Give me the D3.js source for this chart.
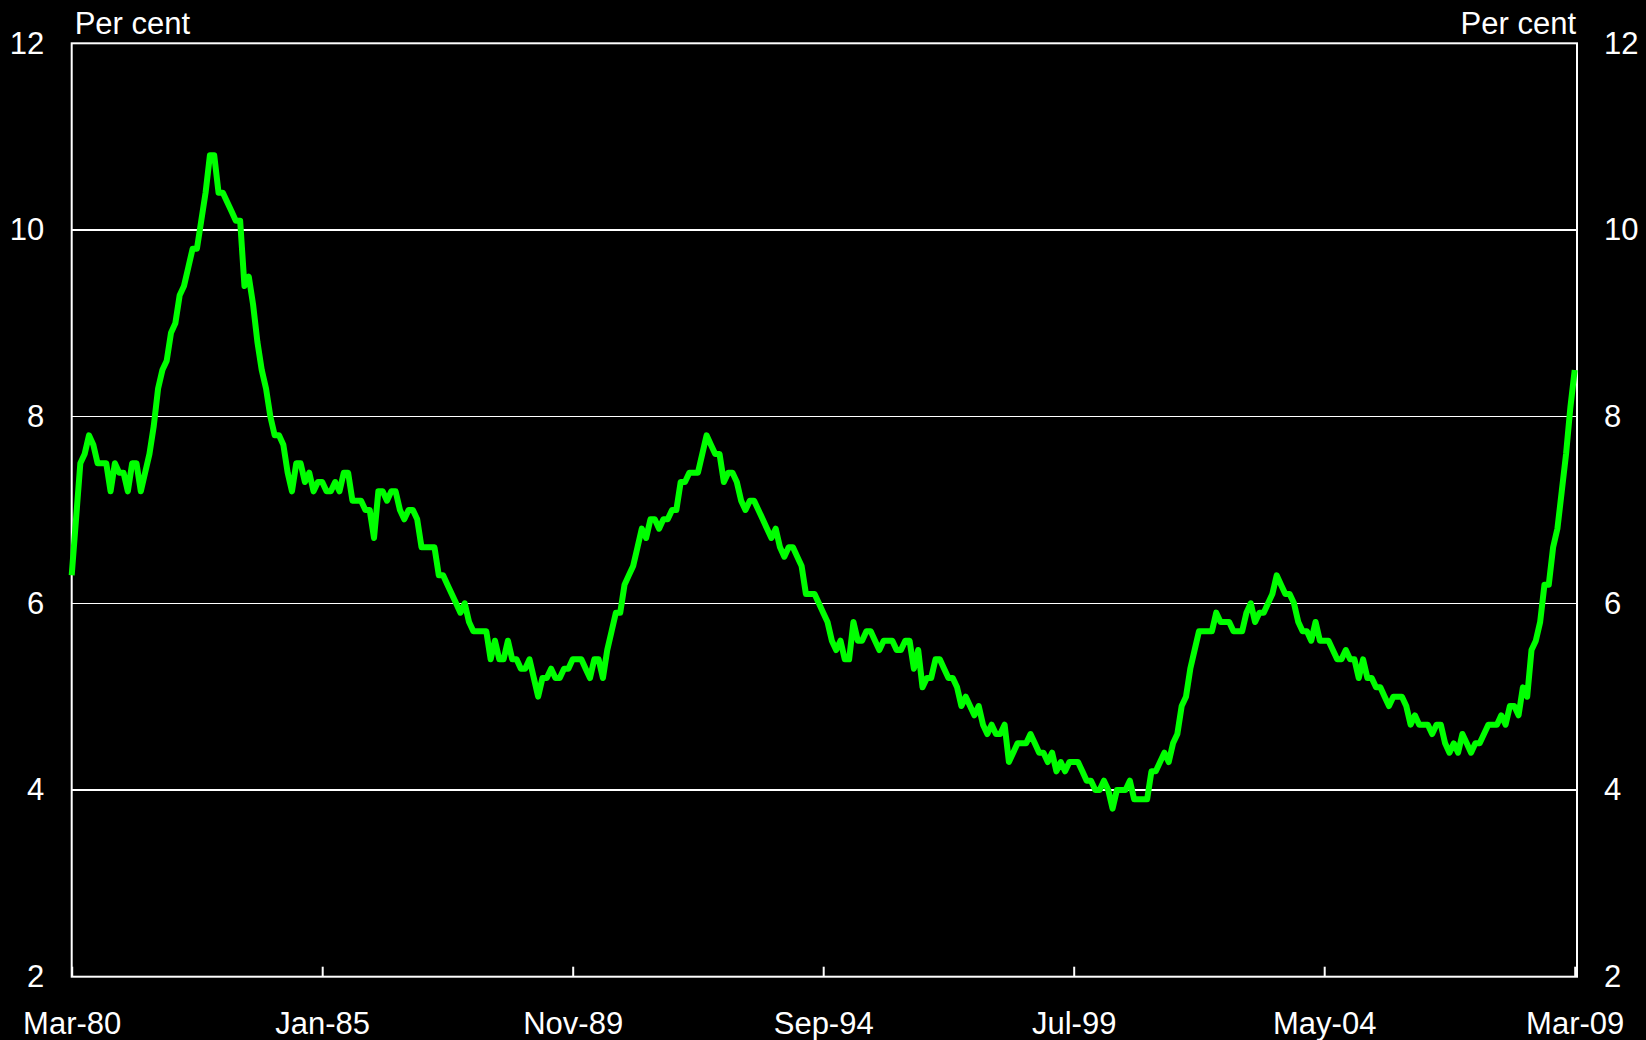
<!doctype html>
<html>
<head>
<meta charset="UTF-8" />
<title>Per cent line chart</title>
<style type="text/css">
html, body {
	margin: 0;
	padding: 0;
	background: #000;
}

svg {
	display: block;
	font-family: "Liberation Sans", Arial, sans-serif;
}

.axis text {
	fill: #fff;
	font-size: 31px;
}

.axis path,
.axis line {
	stroke: #fff;
	stroke-width: 2px;
}

.grid line {
	stroke: #fff;
	stroke-width: 1.6px;
	shape-rendering: crispEdges;
}

.frame {
	fill: none;
	stroke: #fff;
	stroke-width: 2px;
}

.line {
	fill: none;
	stroke: #00ff00;
	stroke-width: 6px;
	stroke-linejoin: round;
}

.unit {
	fill: #fff;
	font-size: 31px;
}
</style>
<script src="https://d3js.org/d3.v7.min.js"></script>
</head>
<body>
<script>
	// monthly values, per cent, starting Mar-80
	var rates1980s = [
		6.3, 6.9, 7.5, 7.6, 7.8, 7.7, 7.5, 7.5, 7.5, 7.2,                // 1980 (Mar-Dec)
		7.5, 7.4, 7.4, 7.2, 7.5, 7.5, 7.2, 7.4, 7.6, 7.9, 8.3, 8.5,      // 1981
		8.6, 8.9, 9.0, 9.3, 9.4, 9.6, 9.8, 9.8, 10.1, 10.4, 10.8, 10.8,  // 1982
		10.4, 10.4, 10.3, 10.2, 10.1, 10.1, 9.4, 9.5, 9.2, 8.8, 8.5, 8.3,// 1983
		8.0, 7.8, 7.8, 7.7, 7.4, 7.2, 7.5, 7.5, 7.3, 7.4, 7.2, 7.3,      // 1984
		7.3, 7.2, 7.2, 7.3, 7.2, 7.4, 7.4, 7.1, 7.1, 7.1, 7.0, 7.0,      // 1985
		6.7, 7.2, 7.2, 7.1, 7.2, 7.2, 7.0, 6.9, 7.0, 7.0, 6.9, 6.6,      // 1986
		6.6, 6.6, 6.6, 6.3, 6.3, 6.2, 6.1, 6.0, 5.9, 6.0, 5.8, 5.7,      // 1987
		5.7, 5.7, 5.7, 5.4, 5.6, 5.4, 5.4, 5.6, 5.4, 5.4, 5.3, 5.3,      // 1988
		5.4, 5.2, 5.0, 5.2, 5.2, 5.3, 5.2, 5.2, 5.3, 5.3, 5.4, 5.4       // 1989
	];

	var rates1990s = [
		5.4, 5.3, 5.2, 5.4, 5.4, 5.2, 5.5, 5.7, 5.9, 5.9, 6.2, 6.3,      // 1990
		6.4, 6.6, 6.8, 6.7, 6.9, 6.9, 6.8, 6.9, 6.9, 7.0, 7.0, 7.3,      // 1991
		7.3, 7.4, 7.4, 7.4, 7.6, 7.8, 7.7, 7.6, 7.6, 7.3, 7.4, 7.4,      // 1992
		7.3, 7.1, 7.0, 7.1, 7.1, 7.0, 6.9, 6.8, 6.7, 6.8, 6.6, 6.5,      // 1993
		6.6, 6.6, 6.5, 6.4, 6.1, 6.1, 6.1, 6.0, 5.9, 5.8, 5.6, 5.5,      // 1994
		5.6, 5.4, 5.4, 5.8, 5.6, 5.6, 5.7, 5.7, 5.6, 5.5, 5.6, 5.6,      // 1995
		5.6, 5.5, 5.5, 5.6, 5.6, 5.3, 5.5, 5.1, 5.2, 5.2, 5.4, 5.4,      // 1996
		5.3, 5.2, 5.2, 5.1, 4.9, 5.0, 4.9, 4.8, 4.9, 4.7, 4.6, 4.7,      // 1997
		4.6, 4.6, 4.7, 4.3, 4.4, 4.5, 4.5, 4.5, 4.6, 4.5, 4.4, 4.4,      // 1998
		4.3, 4.4, 4.2, 4.3, 4.2, 4.3, 4.3, 4.3, 4.2, 4.1, 4.1, 4.0       // 1999
	];

	var rates2000s = [
		4.0, 4.1, 4.0, 3.8, 4.0, 4.0, 4.0, 4.1, 3.9, 3.9, 3.9, 3.9,      // 2000
		4.2, 4.2, 4.3, 4.4, 4.3, 4.5, 4.6, 4.9, 5.0, 5.3, 5.5, 5.7,      // 2001
		5.7, 5.7, 5.7, 5.9, 5.8, 5.8, 5.8, 5.7, 5.7, 5.7, 5.9, 6.0,      // 2002
		5.8, 5.9, 5.9, 6.0, 6.1, 6.3, 6.2, 6.1, 6.1, 6.0, 5.8, 5.7,      // 2003
		5.7, 5.6, 5.8, 5.6, 5.6, 5.6, 5.5, 5.4, 5.4, 5.5, 5.4, 5.4,      // 2004
		5.2, 5.4, 5.2, 5.2, 5.1, 5.1, 5.0, 4.9, 5.0, 5.0, 5.0, 4.9,      // 2005
		4.7, 4.8, 4.7, 4.7, 4.7, 4.6, 4.7, 4.7, 4.5, 4.4, 4.5, 4.4,      // 2006
		4.6, 4.5, 4.4, 4.5, 4.5, 4.6, 4.7, 4.7, 4.7, 4.8, 4.7, 4.9,      // 2007
		4.9, 4.8, 5.1, 5.0, 5.5, 5.6, 5.8, 6.2, 6.2, 6.6, 6.8, 7.2,      // 2008
		7.6, 8.1, 8.5                                                    // 2009 (Jan-Mar)
	];

	var xTickLabels = ["Mar-80", "Jan-85", "Nov-89", "Sep-94", "Jul-99", "May-04", "Mar-09"];
	var xTickStep = 58; // months between labels
	var yTicks = [2, 4, 6, 8, 10, 12];
	var gridValues = [4, 6, 8, 10];
	var unitLabel = "Per cent";

	var data = rates1980s.concat(rates1990s, rates2000s);

	var width = 1646,
		height = 1040,
		margin = {top: 43.3, right: 71.3, bottom: 63.3, left: 71.7},
		frameRight = width - margin.right + 2.3;

	var x = d3.scaleLinear()
		.domain([0, data.length - 1])
		.range([margin.left, width - margin.right]);

	var y = d3.scaleLinear()
		.domain([2, 12])
		.range([height - margin.bottom, margin.top]);

	var svg = d3.select("body").append("svg")
		.attr("width", width)
		.attr("height", height);

	svg.append("rect")
		.attr("width", width)
		.attr("height", height)
		.attr("fill", "#000");

	// horizontal grid
	svg.append("g")
			.attr("class", "grid")
		.selectAll("line")
		.data(gridValues)
		.enter().append("line")
			.attr("x1", margin.left)
			.attr("x2", frameRight)
			.attr("y1", function(d) { return y(d); })
			.attr("y2", function(d) { return y(d); });

	var xAxis = d3.axisBottom(x)
		.tickValues(xTickLabels.map(function(d, i) { return i * xTickStep; }))
		.tickFormat(function(d, i) { return xTickLabels[i]; })
		.tickSize(-10);

	var yAxisLeft = d3.axisLeft(y)
		.tickValues(yTicks)
		.tickSize(0)
		.tickPadding(27.5);

	var yAxisRight = d3.axisRight(y)
		.tickValues(yTicks)
		.tickSize(0)
		.tickPadding(27);

	var gx = svg.append("g")
		.attr("class", "x axis")
		.attr("transform", "translate(0," + y(2) + ")")
		.call(xAxis);
	gx.select(".domain").remove();
	// labels sit well below the frame, baseline about 57px under it
	gx.selectAll("text").attr("dy", null).attr("y", 57.3);

	var gl = svg.append("g")
		.attr("class", "y axis")
		.attr("transform", "translate(" + margin.left + ",0)")
		.call(yAxisLeft);
	gl.select(".domain").remove();

	var gr = svg.append("g")
		.attr("class", "y axis")
		.attr("transform", "translate(" + frameRight + ",0)")
		.call(yAxisRight);
	gr.select(".domain").remove();

	svg.append("rect")
		.attr("class", "frame")
		.attr("x", margin.left)
		.attr("y", y(12))
		.attr("width", frameRight - margin.left)
		.attr("height", y(2) - y(12));

	var line = d3.line()
		.x(function(d, i) { return x(i); })
		.y(function(d) { return y(d); });

	svg.append("path")
		.datum(data)
		.attr("class", "line")
		.attr("d", line);

	svg.append("text")
		.attr("class", "unit")
		.attr("x", margin.left + 3)
		.attr("y", 34)
		.text(unitLabel);

	svg.append("text")
		.attr("class", "unit")
		.attr("x", frameRight - 1)
		.attr("y", 34)
		.style("text-anchor", "end")
		.text(unitLabel);
</script>
</body>
</html>
